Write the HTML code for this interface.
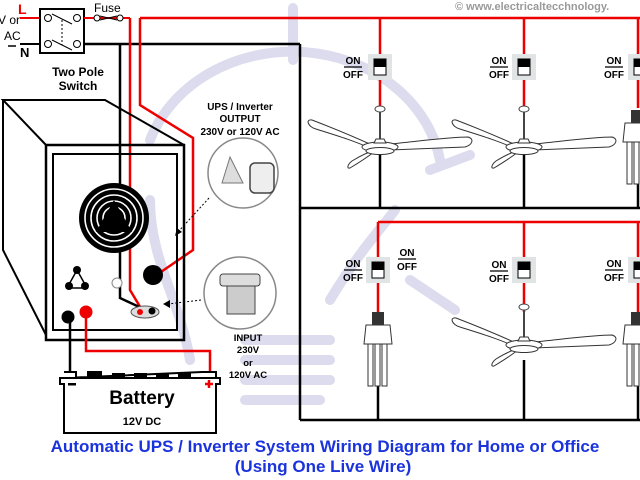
<!DOCTYPE html>
<html><head><meta charset="utf-8"><style>
html,body{margin:0;padding:0;background:#fff}
svg{display:block}
text{font-family:"Liberation Sans",Arial,sans-serif}
</style></head><body>
<svg width="640" height="480" viewBox="0 0 640 480" xmlns="http://www.w3.org/2000/svg">
<defs>
<g id="fan">
  <line x1="0" y1="-35" x2="0" y2="-8" stroke="#444" stroke-width="2"/>
  <ellipse cx="0" cy="-38" rx="5" ry="3" fill="#fff" stroke="#444"/>
  <path d="M-8,-2 C-30,-12 -55,-22 -68,-27 C-75,-28 -72,-20 -64,-18 C-45,-12 -25,-6 -8,2 Z" fill="#fff" stroke="#333" stroke-width="1"/>
  <path d="M10,-3 C40,-6 70,-10 88,-10 C95,-8 92,-2 85,0 C60,1 35,2 10,3 Z" fill="#fff" stroke="#333" stroke-width="1"/>
  <path d="M-6,5 C-15,12 -25,18 -30,21 C-34,22 -32,17 -28,14 C-20,9 -12,5 -4,3 Z" fill="#fff" stroke="#333" stroke-width="1"/>
  <ellipse cx="0" cy="0" rx="18" ry="5" fill="#fff" stroke="#333"/>
  <ellipse cx="0" cy="4" rx="14" ry="3.5" fill="#fff" stroke="#333"/>
  <path d="M-4,-8 L4,-8 L6,-4 L-6,-4 Z" fill="#fff" stroke="#333"/>
</g>
<g id="sw">
  <rect x="-12" y="-13" width="24" height="26" fill="#e0e4e4"/>
  <rect x="-6" y="-8" width="12" height="16" fill="#fff" stroke="#000"/>
  <rect x="-6" y="-8" width="12" height="8" fill="#000"/>
</g>
<g id="onoff">
  <text x="0" y="-3" font-size="10" font-weight="bold" text-anchor="middle">ON</text>
  <line x1="-9" y1="0" x2="9" y2="0" stroke="#000" stroke-width="1.2"/>
  <text x="0" y="11" font-size="10" font-weight="bold" text-anchor="middle">OFF</text>
</g>
<g id="cfl">
  <rect x="-6" y="0" width="12" height="13" fill="#333"/>
  <path d="M-12,13 L12,13 L14,32 L-14,32 Z" fill="#fff" stroke="#333"/>
  <rect x="-10" y="32" width="5" height="42" fill="#fff" stroke="#333"/>
  <rect x="-3" y="32" width="5" height="42" fill="#fff" stroke="#333"/>
  <rect x="4" y="32" width="5" height="42" fill="#fff" stroke="#333"/>
</g>
</defs>

<!-- watermark bulb -->
<g fill="none" stroke="#dcdcee" stroke-width="10" stroke-linecap="round">
  <line x1="293" y1="8" x2="293" y2="60"/>
  <path d="M150,140 A150,130 0 0 1 440,160"/>
  <path d="M190,360 C180,300 150,260 150,200"/>
  <path d="M245,340 L330,340 M245,360 L330,360 M245,380 L330,380 M245,400 L320,400"/>
  <path d="M330,300 C360,250 380,230 395,210"/>
  <line x1="410" y1="280" x2="455" y2="310"/>
  <path d="M430,170 L470,155"/>
</g>

<!-- copyright -->
<text x="455" y="10" font-size="11" font-weight="bold" fill="#9a9a9a">© www.electricaltecchnology.</text>

<!-- top left switch area -->
<text x="-2" y="24" font-size="12">V or</text>
<text x="4" y="40" font-size="12">AC</text>
<text x="18" y="14" font-size="14" font-weight="bold" fill="#e00">L</text>
<text x="20" y="57" font-size="13" font-weight="bold">N</text>
<line x1="20" y1="18" x2="40" y2="18" stroke="#e00" stroke-width="2"/>
<line x1="20" y1="44" x2="40" y2="44" stroke="#000" stroke-width="2"/>
<path d="M8,46 L16,46" stroke="#000" stroke-width="1.5"/>
<rect x="40" y="9" width="44" height="44" fill="#fff" stroke="#000" stroke-width="2"/>
<circle cx="48" cy="18" r="3.5" fill="#fff" stroke="#000"/>
<circle cx="77" cy="18" r="3.5" fill="#fff" stroke="#000"/>
<circle cx="48" cy="44" r="3.5" fill="#fff" stroke="#000"/>
<circle cx="77" cy="44" r="3.5" fill="#fff" stroke="#000"/>
<line x1="52" y1="14" x2="72" y2="24" stroke="#000"/>
<line x1="52" y1="40" x2="72" y2="50" stroke="#000"/>
<line x1="62" y1="20" x2="62" y2="45" stroke="#000" stroke-dasharray="2,2"/>
<text x="94" y="12" font-size="12">Fuse</text>
<line x1="84" y1="18" x2="130" y2="18" stroke="#e00" stroke-width="2"/>
<circle cx="97" cy="18" r="3" fill="#fff" stroke="#000"/>
<circle cx="120" cy="18" r="3" fill="#fff" stroke="#000"/>
<path d="M100,16 L117,20 M100,20 L117,16" stroke="#000"/>
<text x="78" y="76" font-size="12" font-weight="bold" text-anchor="middle">Two Pole</text>
<text x="78" y="90" font-size="12" font-weight="bold" text-anchor="middle">Switch</text>

<!-- main wires -->
<line x1="84" y1="44" x2="300" y2="44" stroke="#000" stroke-width="2.5"/>
<line x1="300" y1="44" x2="300" y2="420" stroke="#000" stroke-width="2.5"/>
<polyline points="130,18 130,290 142,310" fill="none" stroke="#e00" stroke-width="2.5"/>
<polyline points="120,44 120,298 150,312" fill="none" stroke="#000" stroke-width="2.5"/>
<polyline points="140,18 640,18" fill="none" stroke="#e00" stroke-width="2.5"/>
<polyline points="140,18 140,105 193,138 193,250 158,274" fill="none" stroke="#e00" stroke-width="2.5"/>

<!-- UPS box -->
<g fill="none" stroke="#000" stroke-width="2">
  <polyline points="46,145 3,100 105,100 184,145"/>
  <polyline points="3,100 3,250 46,335"/>
  <rect x="46" y="145" width="138" height="195" stroke-width="2.5"/>
  <rect x="53" y="154" width="124" height="176" stroke-width="2"/>
</g>
<circle cx="114" cy="218" r="35" fill="#000"/>
<g fill="none" stroke="#fff" stroke-width="1.6">
  <circle cx="114" cy="218" r="29"/><circle cx="114" cy="218" r="23"/><circle cx="114" cy="218" r="17"/><circle cx="114" cy="218" r="11"/>
</g>
<path d="M114,200 L132,232 L96,232 Z" fill="#000"/>
<path d="M77,270 L87,288 L67,288 Z" fill="#fff" stroke="#000" stroke-width="1.5"/>
<circle cx="77" cy="270" r="4" fill="#000"/><circle cx="69" cy="286" r="4" fill="#000"/><circle cx="85" cy="286" r="4" fill="#000"/>
<circle cx="117" cy="283" r="5" fill="#fff" stroke="#888"/>
<circle cx="153" cy="275" r="10" fill="#000"/>
<ellipse cx="145" cy="312" rx="14" ry="6" fill="#ddd" stroke="#555"/>
<circle cx="140" cy="312" r="3" fill="#e00"/><circle cx="152" cy="311" r="3.5" fill="#000"/>
<circle cx="68" cy="317" r="6.5" fill="#000"/>
<circle cx="86" cy="312" r="6.5" fill="#e00"/>

<!-- battery wires -->
<polyline points="70,317 70,372" fill="none" stroke="#000" stroke-width="2.5"/>
<polyline points="86,312 86,351 210,351 210,372" fill="none" stroke="#e00" stroke-width="2.5"/>
<!-- battery -->
<path d="M64,372 L76,372 L76,378 L88,378 L88,372 L102,372 M202,372 L216,372 L216,378 L220,378 L220,384 L216,384 L216,433 L64,433 L64,384 L60,384 L60,378 L64,378 Z" fill="#fff" stroke="#000" stroke-width="2"/>
<line x1="64" y1="378" x2="216" y2="378" stroke="#000" stroke-width="2"/>
<g fill="#000"><rect x="89" y="373" width="13" height="5"/><rect x="112" y="373" width="13" height="5"/><rect x="134" y="373" width="13" height="5"/><rect x="156" y="373" width="13" height="5"/><rect x="178" y="373" width="13" height="5"/></g>
<rect x="68" y="383" width="8" height="2.5" fill="#000"/>
<path d="M205,384 h8 M209,380 v8" stroke="#e00" stroke-width="2.5"/>
<text x="142" y="404" font-size="19" font-weight="bold" text-anchor="middle">Battery</text>
<text x="142" y="425" font-size="11" font-weight="bold" text-anchor="middle">12V DC</text>

<!-- callouts -->
<text x="240" y="110" font-size="10" font-weight="bold" text-anchor="middle">UPS / Inverter</text>
<text x="240" y="122" font-size="10" font-weight="bold" text-anchor="middle">OUTPUT</text>
<text x="240" y="135" font-size="10" font-weight="bold" text-anchor="middle">230V or 120V AC</text>
<circle cx="243" cy="173" r="35" fill="#fff" stroke="#888" stroke-width="1.5"/>
<path d="M230,157 L222,183 L243,183 Z" fill="#ddd" stroke="#777"/>
<rect x="250" y="163" width="24" height="30" rx="5" fill="#eee" stroke="#444" stroke-width="1.5"/>
<line x1="209" y1="198" x2="178" y2="232" stroke="#000" stroke-dasharray="2,2"/>
<path d="M175,236 L177,228 L182,232 Z" fill="#000"/>
<circle cx="240" cy="293" r="36" fill="#fff" stroke="#888" stroke-width="1.5"/>
<rect x="220" y="274" width="40" height="12" rx="3" fill="#ddd" stroke="#444"/>
<rect x="227" y="286" width="28" height="28" fill="#ccc" stroke="#444"/>
<line x1="201" y1="300" x2="168" y2="304" stroke="#000" stroke-dasharray="2,2"/>
<path d="M163,304 L170,300 L170,308 Z" fill="#000"/>
<text x="248" y="341" font-size="9.5" font-weight="bold" text-anchor="middle">INPUT</text>
<text x="248" y="353" font-size="9.5" font-weight="bold" text-anchor="middle">230V</text>
<text x="248" y="366" font-size="9.5" font-weight="bold" text-anchor="middle">or</text>
<text x="248" y="378" font-size="9.5" font-weight="bold" text-anchor="middle">120V AC</text>

<!-- right circuits -->
<line x1="300" y1="208" x2="640" y2="208" stroke="#000" stroke-width="2.5"/>
<line x1="300" y1="420" x2="640" y2="420" stroke="#000" stroke-width="2.5"/>
<line x1="378" y1="222" x2="640" y2="222" stroke="#e00" stroke-width="2.5"/>
<g stroke="#e00" stroke-width="2.5">
  <line x1="380" y1="18" x2="380" y2="108"/><line x1="524" y1="18" x2="524" y2="108"/><line x1="638" y1="18" x2="638" y2="108"/>
  <line x1="378" y1="222" x2="378" y2="312"/><line x1="524" y1="222" x2="524" y2="312"/><line x1="638" y1="222" x2="638" y2="312"/>
</g>
<g stroke="#000" stroke-width="2.5">
  <line x1="380" y1="155" x2="380" y2="208"/><line x1="524" y1="155" x2="524" y2="208"/><line x1="638" y1="180" x2="638" y2="208"/>
  <line x1="378" y1="385" x2="378" y2="420"/><line x1="524" y1="360" x2="524" y2="420"/><line x1="638" y1="385" x2="638" y2="420"/>
</g>
<use href="#sw" x="380" y="67"/><use href="#sw" x="524" y="67"/><use href="#sw" x="640" y="67"/>
<use href="#onoff" x="353" y="67"/><use href="#onoff" x="499" y="67"/><use href="#onoff" x="614" y="67"/>
<use href="#sw" x="378" y="270"/><use href="#sw" x="524" y="270"/><use href="#sw" x="640" y="270"/>
<use href="#onoff" x="353" y="270"/><use href="#onoff" x="499" y="271"/><use href="#onoff" x="614" y="270"/>
<use href="#onoff" x="407" y="259"/>
<use href="#fan" x="380" y="147"/>
<use href="#fan" x="524" y="147"/>
<use href="#fan" x="524" y="345"/>
<use href="#cfl" x="378" y="312"/>
<use href="#cfl" x="637" y="312"/>
<use href="#cfl" x="637" y="110"/>

<!-- title -->
<text x="325" y="452" font-size="17" font-weight="bold" fill="#1a33dd" text-anchor="middle">Automatic UPS / Inverter System Wiring Diagram for Home or Office</text>
<text x="323" y="472" font-size="17" font-weight="bold" fill="#1a33dd" text-anchor="middle">(Using One Live Wire)</text>
</svg>
</body></html>
